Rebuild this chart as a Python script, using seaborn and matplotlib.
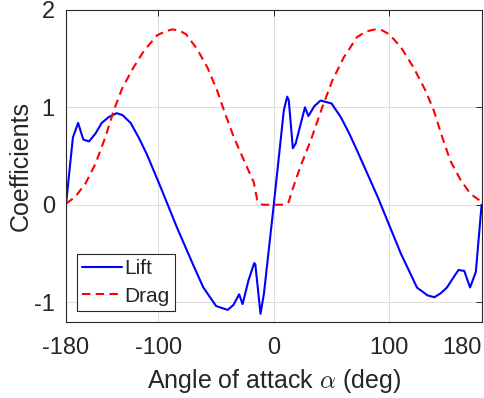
import numpy as np
import pandas as pd
import matplotlib
matplotlib.use("Agg")
import matplotlib.pyplot as plt
import seaborn as sns

# lift coefficient vs angle of attack
lift_aoa = [-180, -174, -169.5, -165, -160, -154.5, -149, -143, -136, -131, -124, -117,
            -110, -98, -84, -69, -61, -50, -40, -35, -30, -27, -22, -17, -16, -11.5,
            -8.5, 0, 8.7, 11.6, 13, 16.5, 19, 27, 30, 35, 40.5, 50, 58, 65, 72, 90,
            110, 124, 133, 139, 144.5, 150, 156, 160, 165, 170, 175, 180]
lift_cl = [0.0, 0.69, 0.84, 0.67, 0.65, 0.73, 0.84, 0.90, 0.94, 0.92, 0.84, 0.69,
           0.52, 0.18, -0.23, -0.64, -0.85, -1.04, -1.08, -1.03, -0.92, -1.02, -0.78,
           -0.60, -0.61, -1.12, -0.91, 0.0, 0.97, 1.11, 1.07, 0.58, 0.63, 1.00, 0.91,
           1.01, 1.07, 1.04, 0.90, 0.74, 0.56, 0.08, -0.50, -0.85, -0.93, -0.95,
           -0.91, -0.85, -0.74, -0.67, -0.68, -0.85, -0.69, 0.0]

# drag coefficient vs angle of attack
drag_aoa = [-180, -172, -163, -154.5, -146, -138.5, -131.5, -122.5, -112.5, -101, -94,
            -88, -82, -76, -66.5, -57.5, -49, -42, -34.5, -24.5, -17.3, -14.4, -10, 0,
            10, 13, 16, 23, 32, 42, 50.5, 60.5, 72, 80, 88, 94, 100, 110, 121, 131.5,
            138.5, 146, 153, 162, 170.5, 180]
drag_cd = [0.01, 0.08, 0.22, 0.42, 0.69, 0.97, 1.19, 1.39, 1.58, 1.74, 1.78,
           1.80, 1.79, 1.75, 1.60, 1.41, 1.17, 0.93, 0.69, 0.42, 0.23, 0.05, 0.0, 0.0,
           0.0, 0.03, 0.15, 0.39, 0.66, 1.00, 1.27, 1.51, 1.72, 1.78, 1.80, 1.79,
           1.75, 1.62, 1.41, 1.17, 0.97, 0.69, 0.45, 0.25, 0.11, 0.03]

x_ticks = [-180, -100, 0, 100, 180]
y_ticks = [-1, 0, 1, 2]

sns.set_style("white")
plt.rcParams["font.family"] = ["Liberation Sans", "DejaVu Sans"]
plt.rcParams["mathtext.fontset"] = "cm"

df_lift = pd.DataFrame({"aoa": lift_aoa, "coef": lift_cl})
df_drag = pd.DataFrame({"aoa": drag_aoa, "coef": drag_cd})

fig = plt.figure(figsize=(4.85, 3.98), dpi=100)
ax = fig.add_axes([0.136, 0.192, 0.857, 0.783])

sns.lineplot(data=df_lift, x="aoa", y="coef", sort=False, color="#0000ff",
             linewidth=1.5, label="Lift", ax=ax)
sns.lineplot(data=df_drag, x="aoa", y="coef", sort=False, color="#ff0000",
             linewidth=1.5, label="Drag", ax=ax)
ax.lines[1].set_dashes((4, 2.6))

ax.set_xlim(-180, 180)
ax.set_ylim(-1.2, 2)
ax.set_xticks(x_ticks)
ax.set_yticks(y_ticks)
ax.set_xticklabels([str(t) for t in x_ticks])
ax.set_yticklabels([str(t) for t in y_ticks])
ax.get_xticklabels()[-1].set_horizontalalignment("right")

ax.grid(True, color="#dcdcdc", linewidth=0.7)
ax.tick_params(direction="in", length=4, width=0.7, colors="#262626",
               labelsize=17, top=True, right=True)
ax.tick_params(axis="x", pad=11)
ax.tick_params(axis="y", pad=8)
for sp in ax.spines.values():
    sp.set_color("#262626")
    sp.set_linewidth(0.8)

ax.set_xlabel(r"Angle of attack $\alpha$ (deg)", fontsize=18, color="#262626", labelpad=6)
ax.set_ylabel("Coefficients", fontsize=18, color="#262626", labelpad=1)

leg = ax.legend(loc="lower left", bbox_to_anchor=(0.026, 0.034), borderaxespad=0,
                fontsize=15, frameon=True, fancybox=False, framealpha=1,
                edgecolor="#262626", handlelength=1.9, handletextpad=0.15,
                labelspacing=0.4, borderpad=0.25)
leg.get_frame().set_linewidth(0.8)

fig.savefig("out.png", dpi=100)
